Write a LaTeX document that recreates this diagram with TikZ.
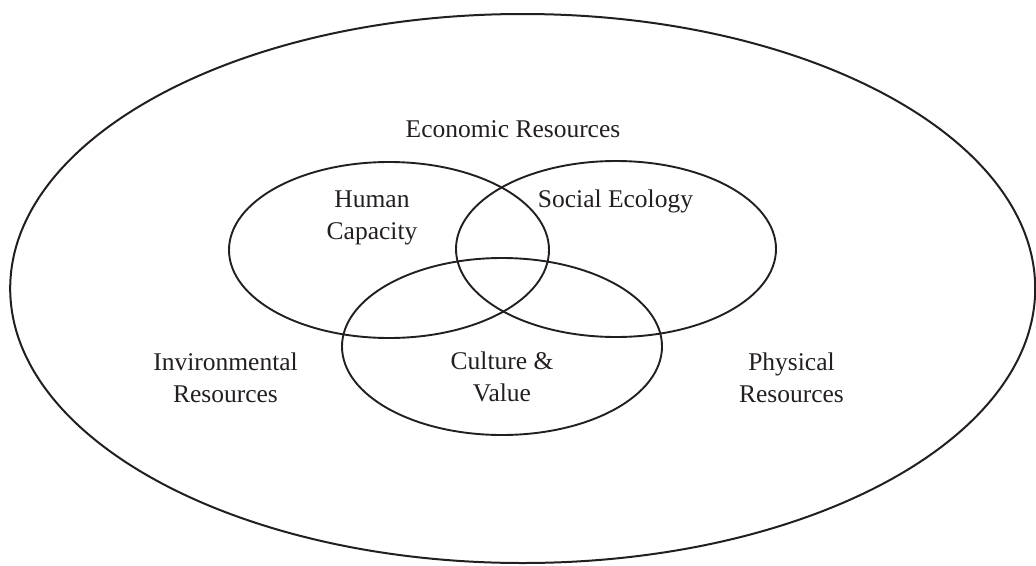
\documentclass[tikz,border=0pt]{standalone}
\usepackage{fontspec}
\setmainfont{Liberation Serif}
\usetikzlibrary{shapes.geometric}
\definecolor{ink}{HTML}{231F20}
\tikzset{
  ring/.style={ellipse, draw=ink, line width=1.9pt, inner sep=0pt, minimum width=320pt, minimum height=176pt},
  outer/.style={ellipse, draw=ink, line width=2pt, inner sep=0pt, minimum width=1025pt, minimum height=549pt},
  label/.style={text=ink, font=\fontsize{25.5}{32}\selectfont, align=center, inner sep=0pt},
}
\begin{document}
\begin{tikzpicture}[x=1pt, y=-1pt]
  \useasboundingbox (0,0) rectangle (1036,565);
  % the whole economy and the three overlapping circles
  \node[outer] (economy) at (522.7,288.5) {};
  \node[ring] (human) at (389,250) {};
  \node[ring] (social) at (616,249) {};
  \node[ring, minimum height=177pt] (culture) at (502,346.5) {};
  % labels
  \node[label, anchor=base] (econ) at (513,137) {Economic Resources};
  \node[label] (humantxt) at (372,218) {Human\\Capacity};
  \node[label, anchor=base] (socialtxt) at (615.5,207) {Social Ecology};
  \node[label] (culturetxt) at (502,377) {Culture \&\\Value};
  \node[label] (envtxt) at (225.5,378) {Invironmental\\Resources};
  \node[label] (phystxt) at (791.5,378) {Physical\\Resources};
\end{tikzpicture}
\end{document}
